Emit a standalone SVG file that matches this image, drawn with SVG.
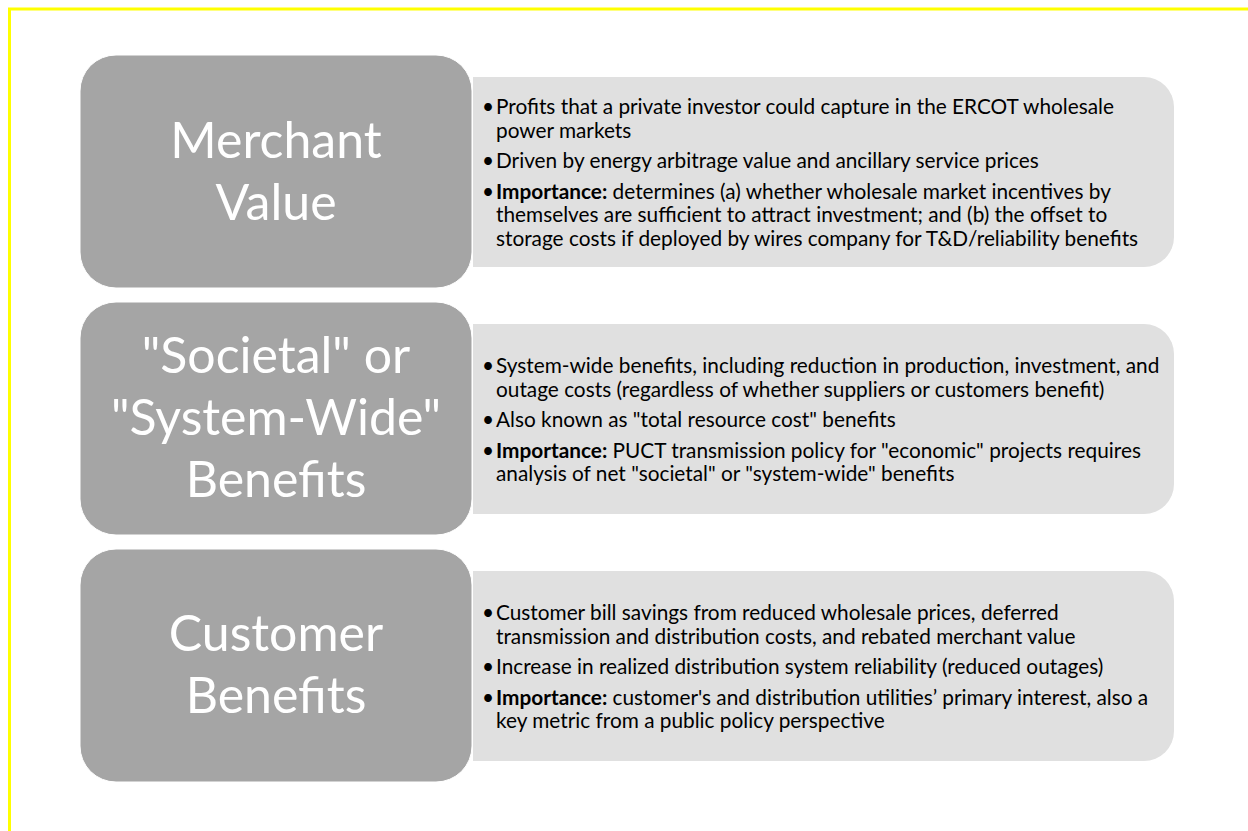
<svg xmlns="http://www.w3.org/2000/svg" width="1248" height="831" viewBox="0 0 1248 831">
  <style>
    .head { fill: #a5a5a5; stroke: #ffffff; stroke-width: 1; }
    .body { fill: #e0e0e0; }
    .title { font-family: Lato, "Open Sans", sans-serif; font-size: 50px; fill: #ffffff; text-anchor: middle; }
    .txt { font-family: Lato, "Open Sans", sans-serif; font-size: 20.8px; fill: #000000; }
    .b { font-weight: bold; }
  </style>

  <rect width="1248" height="831" fill="#ffffff"/>
  <!-- frame -->
  <rect x="9.5" y="9" width="1400" height="1000" fill="none" stroke="#ffff00" stroke-width="3"/>

  <!-- row 1 -->
  <g id="merchant-value">
    <path class="body" d="M473 77 H1144 A30 30 0 0 1 1174 107 V237 A30 30 0 0 1 1144 267 H473 Z"/>
    <rect class="head" x="80" y="55" width="392" height="233" rx="36" ry="36"/>
    <text class="title" x="276" y="158">Merchant</text>
    <text class="title" x="276" y="220">Value</text>
    <text class="txt">
      <tspan x="482" y="114">•</tspan><tspan x="496" y="114">Profits that a private investor could capture in the ERCOT wholesale</tspan>
      <tspan x="496" y="137.5">power markets</tspan>
      <tspan x="482" y="168">•</tspan><tspan x="496" y="168">Driven by energy arbitrage value and ancillary service prices</tspan>
      <tspan x="482" y="198.5">•</tspan><tspan x="496" y="198.5" class="b">Importance:</tspan><tspan> determines (a) whether wholesale market incentives by</tspan>
      <tspan x="496" y="222">themselves are sufficient to attract investment; and (b) the offset to</tspan>
      <tspan x="496" y="245.5">storage costs if deployed by wires company for T&amp;D/reliability benefits</tspan>
    </text>
  </g>

  <!-- row 2 -->
  <g id="system-wide-benefits">
    <path class="body" d="M473 324 H1144 A30 30 0 0 1 1174 354 V484 A30 30 0 0 1 1144 514 H473 Z"/>
    <rect class="head" x="80" y="302" width="392" height="233" rx="36" ry="36"/>
    <text class="title" x="276" y="373">"Societal" or</text>
    <text class="title" x="276" y="435">"System-Wide"</text>
    <text class="title" x="276" y="497">Benefits</text>
    <text class="txt">
      <tspan x="482" y="373">•</tspan><tspan x="496" y="373">System-wide benefits, including reduction in production, investment, and</tspan>
      <tspan x="496" y="396.5">outage costs (regardless of whether suppliers or customers benefit)</tspan>
      <tspan x="482" y="427">•</tspan><tspan x="496" y="427">Also known as "total resource cost" benefits</tspan>
      <tspan x="482" y="457.5">•</tspan><tspan x="496" y="457.5" class="b">Importance:</tspan><tspan> PUCT transmission policy for "economic" projects requires</tspan>
      <tspan x="496" y="481">analysis of net "societal" or "system-wide" benefits</tspan>
    </text>
  </g>

  <!-- row 3 -->
  <g id="customer-benefits">
    <path class="body" d="M473 571 H1144 A30 30 0 0 1 1174 601 V731 A30 30 0 0 1 1144 761 H473 Z"/>
    <rect class="head" x="80" y="549" width="392" height="233" rx="36" ry="36"/>
    <text class="title" x="276" y="651">Customer</text>
    <text class="title" x="276" y="713">Benefits</text>
    <text class="txt">
      <tspan x="482" y="620">•</tspan><tspan x="496" y="620">Customer bill savings from reduced wholesale prices, deferred</tspan>
      <tspan x="496" y="643.5">transmission and distribution costs, and rebated merchant value</tspan>
      <tspan x="482" y="674">•</tspan><tspan x="496" y="674">Increase in realized distribution system reliability (reduced outages)</tspan>
      <tspan x="482" y="704.5">•</tspan><tspan x="496" y="704.5" class="b">Importance:</tspan><tspan> customer's and distribution utilities’ primary interest, also a</tspan>
      <tspan x="496" y="728">key metric from a public policy perspective</tspan>
    </text>
  </g>
</svg>
